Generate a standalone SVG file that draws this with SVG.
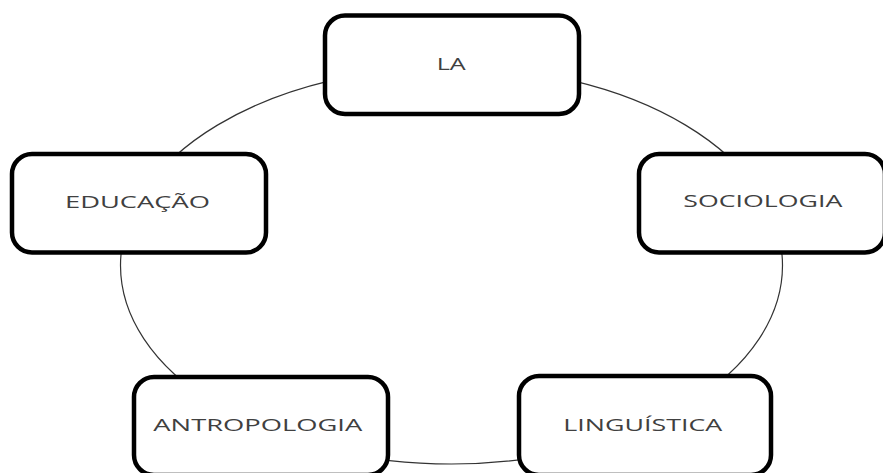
<svg xmlns="http://www.w3.org/2000/svg" width="883" height="473" viewBox="0 0 883 473">
<style>
.box{fill:#ffffff;stroke:#000000;stroke-width:4.5}
.lbl{font-family:"Open Sans","DejaVu Sans",sans-serif;font-size:16.5px;fill:#404040}
.ring{fill:none;stroke:#333333;stroke-width:1.2}
</style>
<rect width="883" height="473" fill="#ffffff"/>
<g id="connectors">
<ellipse class="ring" cx="451.5" cy="265.5" rx="331" ry="198.5"/>
</g>
<g id="node-la">
<rect class="box" x="325" y="15.5" width="254" height="98.5" rx="20"/>
<text class="lbl" x="436.7" y="70" textLength="29" lengthAdjust="spacingAndGlyphs">LA</text>
</g>
<g id="node-educacao">
<rect class="box" x="12" y="154" width="254" height="98.5" rx="20"/>
<text class="lbl" x="65" y="208" textLength="145" lengthAdjust="spacingAndGlyphs">EDUCAÇÃO</text>
</g>
<g id="node-sociologia">
<rect class="box" x="639" y="154" width="246" height="98.5" rx="20"/>
<text class="lbl" x="683.3" y="207.3" textLength="159" lengthAdjust="spacingAndGlyphs">SOCIOLOGIA</text>
</g>
<g id="node-antropologia">
<rect class="box" x="134" y="377" width="254" height="98" rx="20"/>
<text class="lbl" x="153.3" y="430.7" textLength="209" lengthAdjust="spacingAndGlyphs">ANTROPOLOGIA</text>
</g>
<g id="node-linguistica">
<rect class="box" x="519" y="376" width="252" height="99" rx="20"/>
<text class="lbl" x="563.3" y="430.7" textLength="159" lengthAdjust="spacingAndGlyphs">LINGUÍSTICA</text>
</g>
</svg>
